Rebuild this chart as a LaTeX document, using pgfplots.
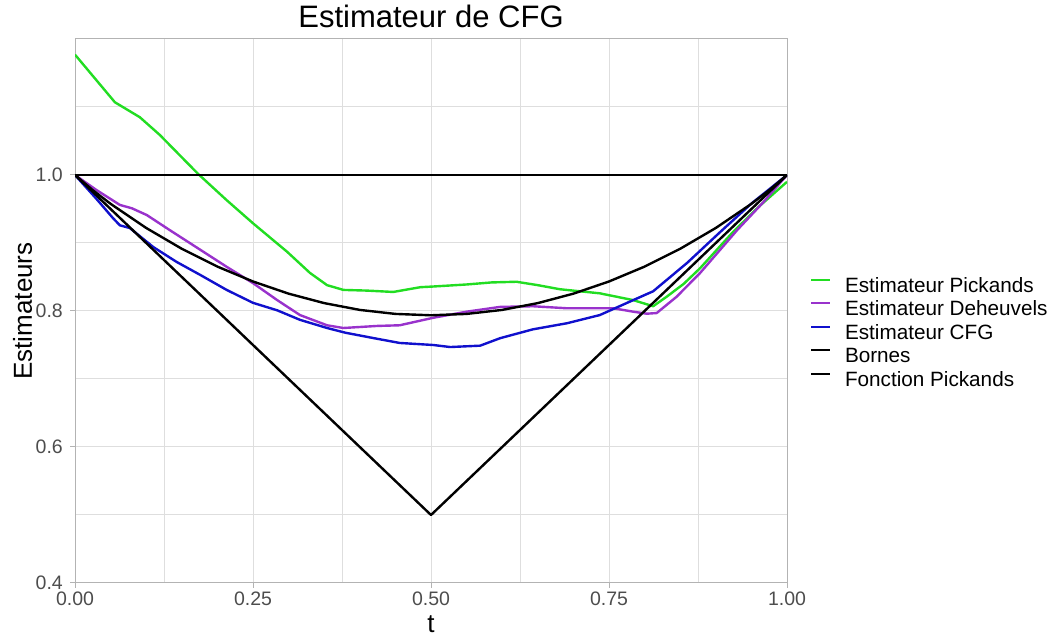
\documentclass[border=0pt]{standalone}
\usepackage{fontspec}
\setmainfont{Liberation Sans}
\usepackage{pgfplots}
\pgfplotsset{compat=1.18}

\definecolor{pickgreen}{RGB}{34,221,34}
\definecolor{dehpurple}{RGB}{153,50,204}
\definecolor{cfgblue}{RGB}{16,16,205}
\definecolor{gridgrey}{RGB}{222,222,222}
\definecolor{bordergrey}{RGB}{179,179,179}
\definecolor{ticktext}{RGB}{77,77,77}

\begin{document}
\begin{tikzpicture}[x=1pt,y=1pt]
\path[use as bounding box] (0,0) rectangle (1054,639);
\begin{axis}[
  at={(75pt,56pt)}, anchor=south west,
  scale only axis, width=712pt, height=544pt,
  xmin=0, xmax=1, ymin=0.4, ymax=1.2,
  xtick={0,0.25,0.5,0.75,1},
  xticklabels={0.00,0.25,0.50,0.75,1.00},
  ytick={0.4,0.6,0.8,1.0},
  yticklabels={0.4,0.6,0.8,1.0},
  minor xtick={0.125,0.375,0.625,0.875},
  minor ytick={0.5,0.7,0.9,1.1},
  grid=both,
  major grid style={gridgrey, line width=1pt},
  minor grid style={gridgrey, line width=1pt},
  axis line style={bordergrey, line width=1pt},
  tick style={bordergrey, line width=1pt},
  major tick length=5pt, minor tick length=0pt,
  tick align=outside,
  xtick pos=bottom, ytick pos=left,
  ticklabel style={text=ticktext, font=\fontsize{19.5}{23}\selectfont},
  xticklabel style={anchor=base, yshift=-18pt, inner sep=0pt},
  yticklabel style={anchor=east, xshift=-7pt, inner sep=0pt},
  title={Estimateur de CFG},
  title style={at={(axis description cs:0.5,1.0110)}, anchor=base,
    font=\fontsize{31}{36}\selectfont, inner sep=0pt},
  xlabel={t},
  xlabel style={at={(axis description cs:0.5,-0.0919)}, anchor=base,
    font=\fontsize{26}{30}\selectfont, inner sep=0pt},
  ylabel={Estimateurs},
  ylabel style={at={(axis description cs:-0.0604,0.5)}, anchor=base,
    font=\fontsize{26}{30}\selectfont, inner sep=0pt},
  legend style={at={(axis description cs:1.0323,0.4577)}, anchor=west,
    draw=none, fill=none, inner sep=0pt, outer sep=0pt,
    font=\fontsize{20.7}{24}\selectfont, row sep=4pt, column sep=14pt,
    nodes={inner sep=0pt, text height=15pt, text depth=4.5pt}},
  legend cell align=left,
  legend image code/.code={\draw[#1, line width=2pt] (0pt,7.4pt) -- (19pt,7.4pt);},
  every axis plot/.append style={line width=2.4pt, line join=round},
]

% Estimateur de Pickands
\addplot[pickgreen] coordinates {
 (0,1.177) (0.056,1.107) (0.091,1.085) (0.119,1.059) (0.173,1.0015)
 (0.213,0.963) (0.25,0.929) (0.298,0.887) (0.33,0.856) (0.354,0.838)
 (0.377,0.831) (0.41,0.830) (0.447,0.828) (0.485,0.835) (0.503,0.836)
 (0.55,0.839) (0.585,0.842) (0.62,0.843) (0.65,0.838) (0.681,0.832)
 (0.737,0.826) (0.784,0.816) (0.812,0.807) (0.831,0.821) (0.855,0.840)
 (0.878,0.863) (0.924,0.916) (0.96,0.953) (1.0,0.990)
};
\addlegendentry{Estimateur Pickands}

% Estimateur de Deheuvels
\addplot[dehpurple] coordinates {
 (0,1.0) (0.03,0.978) (0.063,0.956) (0.08,0.951) (0.101,0.941)
 (0.133,0.919) (0.176,0.890) (0.213,0.865) (0.25,0.841) (0.284,0.816)
 (0.316,0.794) (0.354,0.779) (0.377,0.775) (0.424,0.778) (0.456,0.779)
 (0.503,0.790) (0.55,0.799) (0.597,0.806) (0.643,0.807) (0.691,0.804)
 (0.756,0.804) (0.784,0.799) (0.803,0.796) (0.817,0.797) (0.845,0.821)
 (0.878,0.856) (0.93,0.919) (0.965,0.958) (1,1.0)
};
\addlegendentry{Estimateur Deheuvels}

% Estimateur CFG
\addplot[cfgblue] coordinates {
 (0,1.0) (0.03,0.965) (0.053,0.937) (0.063,0.926) (0.077,0.922)
 (0.11,0.894) (0.143,0.872) (0.176,0.853) (0.213,0.831) (0.25,0.812)
 (0.284,0.801) (0.316,0.787) (0.354,0.775) (0.38,0.768) (0.42,0.760)
 (0.456,0.753) (0.503,0.750) (0.527,0.747) (0.569,0.749) (0.597,0.760)
 (0.643,0.773) (0.691,0.782) (0.737,0.794) (0.784,0.816) (0.812,0.829)
 (0.86,0.871) (0.906,0.916) (0.95,0.958) (1,1.0)
};
\addlegendentry{Estimateur CFG}

% Bornes : max(t,1-t) <= A(t) <= 1
\addplot[black] coordinates {(0,1) (1,1)};
\addlegendentry{Bornes}
\addplot[black, forget plot] coordinates {(0,1) (0.5,0.5) (1,1)};

% Fonction de Pickands (modele logistique)
\addplot[black] coordinates {
 (0,1.0) (0.025,0.9777) (0.05,0.9576) (0.1,0.9221) (0.15,0.8915)
 (0.2,0.8653) (0.25,0.8434) (0.3,0.8255) (0.35,0.8116) (0.4,0.8016)
 (0.45,0.7957) (0.5,0.7937) (0.55,0.7957) (0.6,0.8016) (0.65,0.8116)
 (0.7,0.8255) (0.75,0.8434) (0.8,0.8653) (0.85,0.8915) (0.9,0.9221)
 (0.95,0.9576) (0.975,0.9777) (1,1.0)
};
\addlegendentry{Fonction Pickands}

\end{axis}
\end{tikzpicture}
\end{document}
